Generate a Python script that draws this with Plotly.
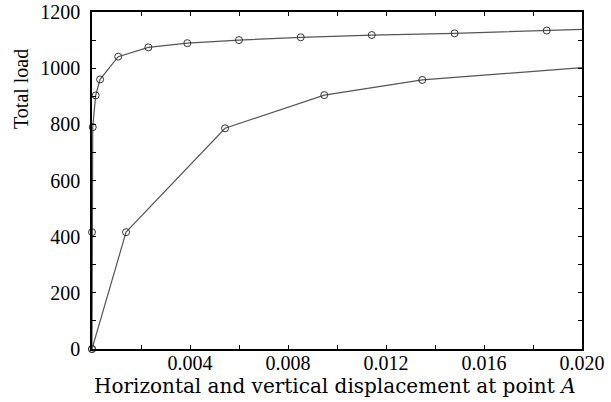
import plotly.graph_objects as go

# Upper curve (all points of the polyline) and which ones carry a marker
upper_x = [0.0, 0.0, 0.00003, 0.00015, 0.00033, 0.00107, 0.0023, 0.00389, 0.0060, 0.00852, 0.01142, 0.0148, 0.01856, 0.0200]
upper_y = [0, 416, 790, 903, 960, 1041, 1074, 1089, 1100, 1110, 1118, 1124, 1134, 1138]
upper_marked = [True] * 13 + [False]

# Lower curve
lower_x = [0.0, 0.00139, 0.00543, 0.00948, 0.01348, 0.0200]
lower_y = [0, 416, 786, 904, 958, 1002]
lower_marked = [True] * 5 + [False]

x_tickvals = [0.0, 0.002, 0.004, 0.006, 0.008, 0.010, 0.012, 0.014, 0.016, 0.018, 0.020]
x_ticktext = ["", "", "0.004", "", "0.008", "", "0.012", "", "0.016", "", "0.020"]
y_tickvals = [0, 100, 200, 300, 400, 500, 600, 700, 800, 900, 1000, 1100, 1200]
y_ticktext = ["0", "", "200", "", "400", "", "600", "", "800", "", "1000", "", "1200"]

x_title = "Horizontal and vertical displacement at point <i>A</i>"
y_title = "Total load"

FONT = "Liberation Serif"
LINE = "#555555"
MARK = "#333333"

W, H = 611, 402
L, T, R, B = 92, 12, 611 - 582, 402 - 349
PW, PH = W - L - R, H - T - B


def px_x(page_x):
    return (page_x - L) / PW


def px_y(page_y):
    return (H - B - page_y) / PH


fig = go.Figure()
for xs, ys, mk in [(upper_x, upper_y, upper_marked), (lower_x, lower_y, lower_marked)]:
    fig.add_trace(go.Scatter(x=xs, y=ys, mode="lines", line=dict(color=LINE, width=1.2),
                             cliponaxis=False, showlegend=False, hoverinfo="skip"))
    fig.add_trace(go.Scatter(x=[x for x, m in zip(xs, mk) if m], y=[y for y, m in zip(ys, mk) if m],
                             mode="markers", cliponaxis=False, showlegend=False,
                             marker=dict(symbol="circle-open", size=7, color=MARK, line=dict(width=1))))

axis_common = dict(showline=True, linecolor="black", linewidth=1.5, mirror="ticks",
                   ticks="inside", ticklen=4, tickwidth=1, tickcolor="black",
                   showgrid=False, zeroline=False, automargin=False,
                   tickfont=dict(family=FONT, size=20, color="black"))

fig.update_xaxes(range=[0, 0.02], tickmode="array", tickvals=x_tickvals, ticktext=x_ticktext,
                 ticklabelstandoff=-5, **axis_common)
fig.update_yaxes(range=[0, 1200], tickmode="array", tickvals=y_tickvals, ticktext=y_ticktext,
                 ticklabelstandoff=6, **axis_common)

fig.add_annotation(text=x_title, xref="paper", yref="paper",
                   x=px_x(335), y=px_y(386), xanchor="center", yanchor="middle",
                   showarrow=False, font=dict(family="DejaVu Serif", size=20, color="black"))
fig.add_annotation(text=y_title, xref="paper", yref="paper", textangle=-90,
                   x=px_x(21), y=px_y(89), xanchor="center", yanchor="middle",
                   showarrow=False, font=dict(family=FONT, size=20, color="black"))

fig.update_layout(width=W, height=H, margin=dict(l=L, r=R, t=T, b=B),
                  plot_bgcolor="white", paper_bgcolor="white",
                  font=dict(family=FONT, size=20, color="black"))

fig.write_html("out.html", config={"displayModeBar": False},
               post_script="document.body.style.margin='0';")
